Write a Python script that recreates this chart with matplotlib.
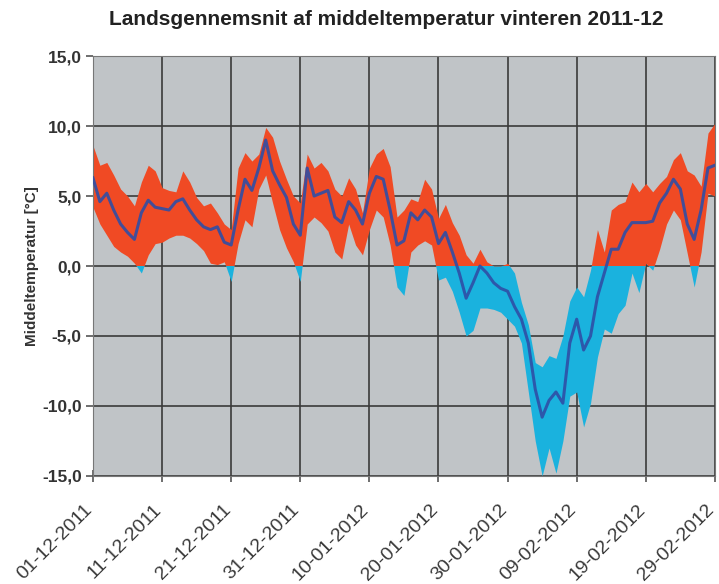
"""
landsgennemsnit af middeltemperatur - vinteren 2011-12
"""

import numpy as np
import pandas as pd
import matplotlib
matplotlib.use("Agg")
import matplotlib.pyplot as plt
from matplotlib.patches import Rectangle

plt.rcParams['font.family'] = ['Liberation Sans', 'DejaVu Sans']

# one value per day, 01-12-2011 .. 29-02-2012
dates = pd.date_range("2011-12-01", "2012-02-29", freq="D")

t_max = [8.6, 7.2, 7.4, 6.5, 5.5, 5.0, 4.3, 6.0, 7.2, 6.8,
         5.6, 5.4, 5.3, 6.8, 6.0, 4.9, 4.3, 4.5, 3.8, 3.0,
         2.6, 7.0, 8.1, 7.5, 8.0, 9.9, 9.2, 7.5, 6.2, 5.0,
         4.5, 8.0, 7.0, 7.4, 6.8, 5.5, 5.0, 6.3, 5.5, 3.8,
         7.0, 8.0, 8.4, 7.1, 3.5, 4.0, 4.8, 4.6, 6.2, 5.5,
         3.4, 4.4, 3.1, 2.2, 0.8, 0.2, 1.2, 0.3, 0.0, 0.0,
         0.2, -0.5, -2.6, -4.2, -6.9, -7.2, -6.4, -6.6, -5.0, -2.5,
         -1.5, -2.2, -0.3, 2.6, 1.0, 4.0, 4.4, 4.6, 6.0, 5.3,
         5.9, 5.3, 5.9, 6.4, 7.6, 8.1, 6.8, 6.5, 5.7, 9.5,
         10.2]

t_min = [4.2, 3.0, 2.2, 1.4, 1.0, 0.7, 0.2, -0.5, 0.8, 1.6,
         1.7, 2.0, 2.2, 2.2, 2.0, 1.6, 1.1, 0.2, 0.1, 0.3,
         -1.1, 1.6, 3.3, 2.8, 5.5, 6.5, 4.5, 2.6, 1.3, 0.3,
         -1.1, 3.0, 3.5, 3.1, 2.5, 1.0, 0.5, 3.0, 1.5, 0.8,
         2.6, 4.0, 3.5, 1.5, -1.5, -2.1, 1.0, 1.5, 1.8, 1.5,
         -1.0, -0.8, -1.8, -3.3, -5.0, -4.6, -3.0, -3.0, -3.1, -3.3,
         -3.8, -4.3, -5.5, -9.0, -12.5, -15.0, -13.0, -14.8, -12.5, -9.3,
         -9.0, -11.5, -9.8, -6.5, -4.5, -4.8, -3.4, -2.8, -0.5, -1.9,
         0.2, -0.3, 1.2, 3.0, 4.0, 3.3, 0.9, -1.5, 1.0, 5.2,
         5.0]

t_mean = [6.3, 4.6, 5.2, 4.0, 3.0, 2.4, 1.9, 3.8, 4.7, 4.2,
          4.1, 4.0, 4.6, 4.8, 4.0, 3.3, 2.8, 2.6, 2.8, 1.7,
          1.5, 4.0, 6.2, 5.4, 7.0, 9.0, 6.8, 5.8, 4.9, 3.0,
          2.2, 7.0, 5.0, 5.2, 5.4, 3.5, 3.1, 4.6, 4.0, 3.0,
          5.2, 6.4, 6.2, 4.0, 1.5, 1.8, 3.8, 3.3, 4.0, 3.5,
          1.6, 2.4, 1.0, -0.5, -2.3, -1.2, 0.0, -0.5, -1.2, -1.6,
          -1.8, -2.9, -3.8, -5.5, -8.8, -10.8, -9.6, -9.0, -9.8, -5.5,
          -3.8, -6.0, -5.0, -2.2, -0.5, 1.2, 1.2, 2.4, 3.1, 3.1,
          3.1, 3.2, 4.5, 5.2, 6.2, 5.5, 3.0, 1.9, 4.0, 7.0,
          7.2]

tick_labels = ["01-12-2011", "11-12-2011", "21-12-2011", "31-12-2011",
               "10-01-2012", "20-01-2012", "30-01-2012", "09-02-2012",
               "19-02-2012", "29-02-2012"]
y_ticks = [15, 10, 5, 0, -5, -10, -15]

RED = "#f04a24"
CYAN = "#1ab2de"
BLUE = "#2f4ea6"

x = np.arange(len(dates))

fig = plt.figure(figsize=(7.19, 5.84), dpi=100)
ax = fig.add_axes([0.1293, 0.185, 0.865, 0.719])
ax.set_facecolor("#c0c4c7")

# band: red above zero, cyan below zero (same polygon, clipped twice)
warm = ax.fill_between(x, t_min, t_max, color=RED, linewidth=0, zorder=2)
cold = ax.fill_between(x, t_min, t_max, color=CYAN, linewidth=0, zorder=2)
warm.set_clip_path(Rectangle((-1, 0), 100, 30, transform=ax.transData))
cold.set_clip_path(Rectangle((-1, -30), 100, 30, transform=ax.transData))

ax.plot(x, t_mean, color=BLUE, linewidth=2.2, alpha=0.9, zorder=3)

ax.set_xlim(0, 90)
ax.set_ylim(-15, 15)
ax.set_xticks(x[::10])
# baseline anchor keeps the right end of each label at its tick
ax.set_xticklabels(tick_labels, rotation=45, ha="right", va="baseline",
                   rotation_mode="anchor", fontsize=14, color="#3a3a3a")
ax.set_yticks(y_ticks)
ax.set_yticklabels([("%.1f" % v).replace(".", ",") for v in y_ticks],
                   fontsize=12.5, fontweight="bold", color="#333333")
ax.grid(True, color="#3a3a3a", linewidth=1.2, zorder=1)
ax.set_axisbelow(True)
ax.tick_params(axis="x", direction="inout", length=8, width=1.2, color="#555555", pad=21)
ax.tick_params(axis="y", direction="out", length=5, width=1.2, color="#555555", pad=3)
for s in ax.spines.values():
    s.set_color("#777777")

ax.set_ylabel("Middeltemperatur [°C]", fontsize=11, fontweight="bold", color="#333333",
              labelpad=2)
fig.text(0.537, 0.967, "Landsgennemsnit af middeltemperatur vinteren 2011-12",
         fontsize=15, fontweight="bold", color="#222222", ha="center", va="center")

fig.savefig("out.png", dpi=100)
